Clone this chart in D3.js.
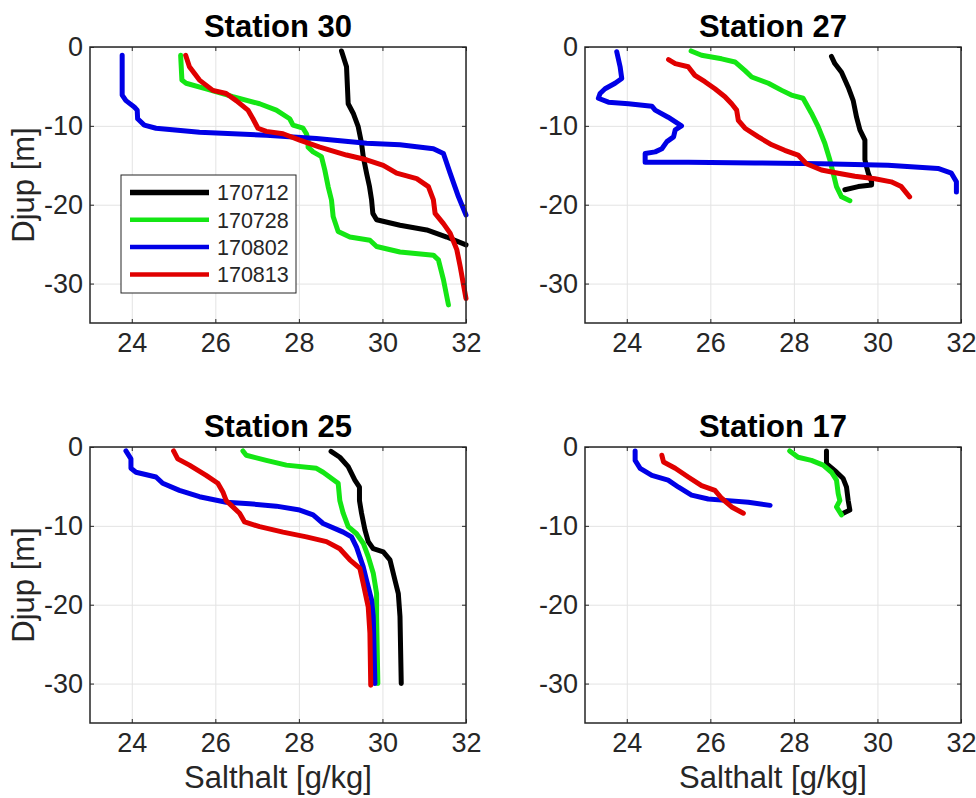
<!DOCTYPE html>
<html>
<head>
<meta charset="utf-8">
<script src="https://cdn.jsdelivr.net/npm/d3@7"></script>
<style>
	body { margin: 0; background: #fff; }
	text { font-family: Arial, "Liberation Sans", sans-serif; }
</style>
</head>
<body>
<div id="divplot"></div>
<script>
// Salthalt profiles, four stations

const dates = ['170712', '170728', '170802', '170813']
const colors = ['#000000', '#14e614', '#0000e6', '#e00000']
const stationNames = ['Station 30', 'Station 27', 'Station 25', 'Station 17']
const xTicks = [24, 26, 28, 30, 32]
const yTicks = [0, -10, -20, -30]

// [salthalt, djup]
const st30_170712 = [[29.02,-0.5],[29.14,-2.5],[29.18,-7.2],[29.3,-8.4],[29.42,-10.1],[29.5,-12.2],[29.54,-13.9],[29.62,-16],[29.69,-17.7],[29.74,-19.4],[29.77,-21.1],[29.86,-21.9],[30.42,-22.6],[31.06,-23.2],[31.54,-24.1],[32.0,-25.1]]
const st30_170728 = [[25.17,-1.05],[25.2,-4.2],[25.3,-4.6],[25.78,-5.3],[26.42,-6.3],[27.06,-7.2],[27.46,-8],[27.78,-9.1],[27.86,-9.9],[28.1,-10.3],[28.18,-11],[28.22,-11.8],[28.22,-12.7],[28.34,-13.3],[28.54,-13.9],[28.62,-15.6],[28.7,-17.7],[28.78,-19.4],[28.82,-21.5],[28.94,-23.4],[29.22,-24.1],[29.7,-24.5],[29.86,-25.3],[30.42,-26],[31.22,-26.4],[31.34,-27],[31.46,-29.5],[31.58,-32.7]]
const st30_170802 = [[23.77,-1.05],[23.77,-6.1],[23.86,-6.8],[24.06,-7.6],[24.13,-8],[24.14,-9.1],[24.3,-9.9],[24.58,-10.3],[25.62,-10.8],[27.22,-11.2],[28.42,-11.6],[29.62,-12.2],[30.42,-12.4],[31.22,-12.9],[31.46,-13.5],[31.62,-16],[31.82,-19],[32.0,-21.3]]
const st30_170813 = [[25.29,-1.05],[25.38,-2.5],[25.62,-4.2],[25.94,-5.5],[26.26,-5.9],[26.5,-6.8],[26.78,-8],[26.9,-9.1],[27.02,-10.3],[27.22,-10.7],[27.62,-11],[28.02,-11.8],[28.5,-12.7],[29.14,-13.7],[29.62,-14.3],[30.02,-15],[30.34,-16],[30.82,-16.7],[31.1,-17.7],[31.22,-19.4],[31.26,-21.1],[31.46,-22.4],[31.62,-23.6],[31.78,-25.7],[31.86,-27.8],[32.0,-31.9]]

const st27_170712 = [[28.9,-1.2],[28.98,-2.1],[29.14,-3.2],[29.3,-5.1],[29.42,-6.8],[29.5,-8.9],[29.58,-10.5],[29.7,-11.8],[29.7,-14.3],[29.74,-15.2],[29.78,-16],[29.86,-17.1],[29.86,-17.5],[29.54,-17.7],[29.22,-18.1]]
const st27_170728 = [[25.54,-0.5],[25.79,-1.05],[26.27,-1.5],[26.59,-1.9],[26.83,-3],[26.99,-3.8],[27.39,-4.6],[27.71,-5.5],[27.94,-6.1],[28.22,-6.5],[28.42,-8.4],[28.58,-10.1],[28.74,-12.2],[28.86,-14.3],[28.94,-16],[29.02,-17.7],[29.14,-19],[29.34,-19.5]]
const st27_170802 = [[23.76,-0.6],[23.84,-2.5],[23.88,-4],[23.72,-4.6],[23.48,-5.3],[23.36,-5.9],[23.32,-6.5],[23.56,-7],[24.04,-7.2],[24.6,-7.5],[24.68,-8],[24.99,-8.9],[25.31,-10],[25.16,-10.5],[25.12,-11.4],[24.96,-12],[24.84,-12.9],[24.68,-13.3],[24.44,-13.5],[24.44,-14.6],[25.47,-14.6],[27.07,-14.7],[28.66,-14.8],[30.25,-15],[31.45,-15.4],[31.77,-16],[31.89,-17.1],[31.89,-18.4]]
const st27_170813 = [[25.0,-1.6],[25.16,-2.1],[25.47,-2.5],[25.63,-3.6],[25.87,-4.4],[26.11,-5.3],[26.35,-6.3],[26.51,-7.2],[26.63,-8],[26.67,-9.3],[26.83,-10.3],[27.15,-11.4],[27.47,-12.4],[27.78,-13.1],[28.1,-13.7],[28.3,-14.8],[28.66,-15.6],[29.06,-16],[29.46,-16.4],[29.94,-16.7],[30.33,-17.1],[30.57,-17.7],[30.77,-19]]

const st25_170712 = [[28.77,-0.55],[28.98,-1.3],[29.18,-2.5],[29.34,-4.2],[29.45,-5.1],[29.45,-6.8],[29.5,-8.4],[29.58,-10.5],[29.66,-12],[29.78,-12.9],[30.02,-13.3],[30.18,-14.3],[30.3,-16.9],[30.38,-18.6],[30.42,-21.5],[30.45,-30]]
const st25_170728 = [[26.66,-0.5],[26.74,-1.05],[27.22,-1.7],[27.7,-2.3],[28.42,-2.7],[28.58,-3.2],[28.94,-4.6],[28.98,-6.8],[29.06,-8.4],[29.18,-10.1],[29.38,-11],[29.54,-12.2],[29.66,-13.9],[29.78,-16],[29.86,-18.6],[29.86,-21.5],[29.89,-30]]
const st25_170802 = [[23.86,-0.5],[23.98,-1.5],[23.98,-2.7],[24.1,-3.2],[24.58,-3.8],[24.74,-4.6],[25.14,-5.5],[25.62,-6.3],[26.26,-7],[26.82,-7.2],[27.46,-7.5],[28.02,-8],[28.34,-8.6],[28.58,-9.7],[29.06,-10.8],[29.26,-11.4],[29.38,-12.7],[29.54,-15.2],[29.62,-16.9],[29.74,-19.4],[29.78,-21.5],[29.82,-30]]
const st25_170813 = [[25.0,-0.5],[25.1,-1.5],[25.38,-2.3],[25.78,-3.6],[26.06,-4.6],[26.18,-5.7],[26.26,-6.8],[26.42,-7.6],[26.58,-8.4],[26.7,-9.5],[27.06,-10.1],[27.62,-10.8],[28.18,-11.4],[28.66,-12],[28.98,-12.9],[29.22,-14.3],[29.46,-15.4],[29.54,-17.3],[29.66,-20.3],[29.7,-23.6],[29.72,-30.2]]

const st17_170712 = [[28.78,-0.5],[28.78,-2.1],[28.98,-3],[29.18,-4],[29.26,-5.1],[29.3,-6.8],[29.34,-8],[29.18,-8.4]]
const st17_170728 = [[27.9,-0.5],[28.1,-1.3],[28.42,-1.7],[28.7,-2.3],[28.9,-3.2],[29.02,-4.2],[29.06,-5.9],[29.1,-6.8],[29.02,-7.6],[29.14,-8.6]]
const st17_170802 = [[24.2,-0.5],[24.2,-1.7],[24.32,-2.7],[24.6,-3.6],[24.99,-4.2],[25.24,-5.1],[25.55,-6.1],[25.95,-6.6],[26.43,-6.8],[26.91,-7],[27.43,-7.4]]
const st17_170813 = [[24.84,-1.05],[24.88,-1.9],[25.16,-2.7],[25.47,-3.8],[25.79,-4.9],[26.11,-5.5],[26.27,-6.5],[26.51,-7.6],[26.79,-8.4]]

const stationSeries = [
	[st30_170712, st30_170728, st30_170802, st30_170813],
	[st27_170712, st27_170728, st27_170802, st27_170813],
	[st25_170712, st25_170728, st25_170802, st25_170813],
	[st17_170712, st17_170728, st17_170802, st17_170813]
]

const plot = () => {
	let width = 976
	let height = 798
	let pw = 376
	let ph = 276
	let axisColor = '#262626'

	let svg = d3.select('#divplot')
		.append('svg')
		.attr('width', width)
		.attr('height', height)

	stationSeries.forEach((series, i) => {
		let left = i % 2 == 0 ? 90 : 585
		let top = i < 2 ? 47 : 447

		let xScale = d3.scaleLinear().domain([23, 32]).range([left, left + pw])
		let yScale = d3.scaleLinear().domain([-35, 0]).range([top + ph, top])

		let g = svg.append('g')

		// grid
		g.append('g')
			.attr('transform', `translate(0,${top + ph})`)
			.call(d3.axisBottom(xScale).tickValues(xTicks).tickSize(-ph).tickFormat(''))
			.call(a => a.select('.domain').remove())
			.call(a => a.selectAll('line').attr('stroke', '#e3e3e3'))
		g.append('g')
			.attr('transform', `translate(${left},0)`)
			.call(d3.axisLeft(yScale).tickValues(yTicks).tickSize(-pw).tickFormat(''))
			.call(a => a.select('.domain').remove())
			.call(a => a.selectAll('line').attr('stroke', '#e3e3e3'))

		// lines
		let line = d3.line()
			.x(d => xScale(d[0]))
			.y(d => yScale(d[1]))

		g.selectAll('path.profile')
			.data(series)
			.enter()
			.append('path')
			.attr('class', 'profile')
			.attr('d', d => line(d))
			.attr('fill', 'none')
			.attr('stroke', (d, j) => colors[j])
			.attr('stroke-width', 5)
			.attr('stroke-linejoin', 'round')
			.attr('stroke-linecap', 'round')

		// axes with inward ticks
		let axes = g.append('g')
		axes.append('g')
			.attr('transform', `translate(0,${top + ph})`)
			.call(d3.axisBottom(xScale).tickValues(xTicks).tickSizeInner(-4).tickSizeOuter(0).tickPadding(10).tickFormat(d => String(d)))
		axes.append('g')
			.attr('transform', `translate(${left},0)`)
			.call(d3.axisLeft(yScale).tickValues(yTicks).tickSizeInner(-4).tickSizeOuter(0).tickPadding(7).tickFormat(d => String(d)))
		axes.append('g')
			.attr('transform', `translate(0,${top})`)
			.call(d3.axisTop(xScale).tickValues(xTicks).tickSizeInner(-4).tickSizeOuter(0).tickFormat(''))
		axes.append('g')
			.attr('transform', `translate(${left + pw},0)`)
			.call(d3.axisRight(yScale).tickValues(yTicks).tickSizeInner(-4).tickSizeOuter(0).tickFormat(''))

		axes.selectAll('.tick line').attr('stroke', axisColor)
		axes.selectAll('.domain').attr('stroke', 'none')
		axes.selectAll('.tick text')
			.attr('fill', axisColor)
			.style('font-size', '27px')
			.style('font-family', 'Arial, "Liberation Sans", sans-serif')

		g.append('rect')
			.attr('x', left)
			.attr('y', top)
			.attr('width', pw)
			.attr('height', ph)
			.attr('fill', 'none')
			.attr('stroke', axisColor)
			.attr('stroke-width', 1.5)

		g.append('text')
			.attr('x', left + pw / 2)
			.attr('y', top - 10)
			.attr('text-anchor', 'middle')
			.style('font-size', '31px')
			.style('font-weight', 'bold')
			.text(stationNames[i])

		if (i % 2 == 0) {
			g.append('text')
				.attr('transform', `translate(34,${top + ph / 2}) rotate(-90)`)
				.attr('text-anchor', 'middle')
				.attr('fill', axisColor)
				.style('font-size', '31px')
				.text('Djup [m]')
		}
		if (i >= 2) {
			g.append('text')
				.attr('x', left + pw / 2)
				.attr('y', 788)
				.attr('text-anchor', 'middle')
				.attr('fill', axisColor)
				.style('font-size', '31px')
				.text('Salthalt [g/kg]')
		}

		// legend, first panel only
		if (i == 0) {
			let lg = g.append('g')
			lg.append('rect')
				.attr('x', 121)
				.attr('y', 175)
				.attr('width', 175)
				.attr('height', 118)
				.attr('fill', '#fff')
				.attr('stroke', axisColor)
				.attr('stroke-width', 1)
			lg.selectAll('line')
				.data(dates)
				.enter()
				.append('line')
				.attr('x1', 130)
				.attr('x2', 209)
				.attr('y1', (d, j) => 192.5 + j * 27.3)
				.attr('y2', (d, j) => 192.5 + j * 27.3)
				.attr('stroke', (d, j) => colors[j])
				.attr('stroke-width', (d, j) => j == 0 ? 5.5 : 4.5)
			lg.selectAll('text')
				.data(dates)
				.enter()
				.append('text')
				.attr('x', 217)
				.attr('y', (d, j) => 192.5 + j * 27.3)
				.attr('dy', '0.36em')
				.attr('fill', axisColor)
				.style('font-size', '21.5px')
				.text(d => d)
		}
	})
}

plot()
</script>
</body>
</html>
